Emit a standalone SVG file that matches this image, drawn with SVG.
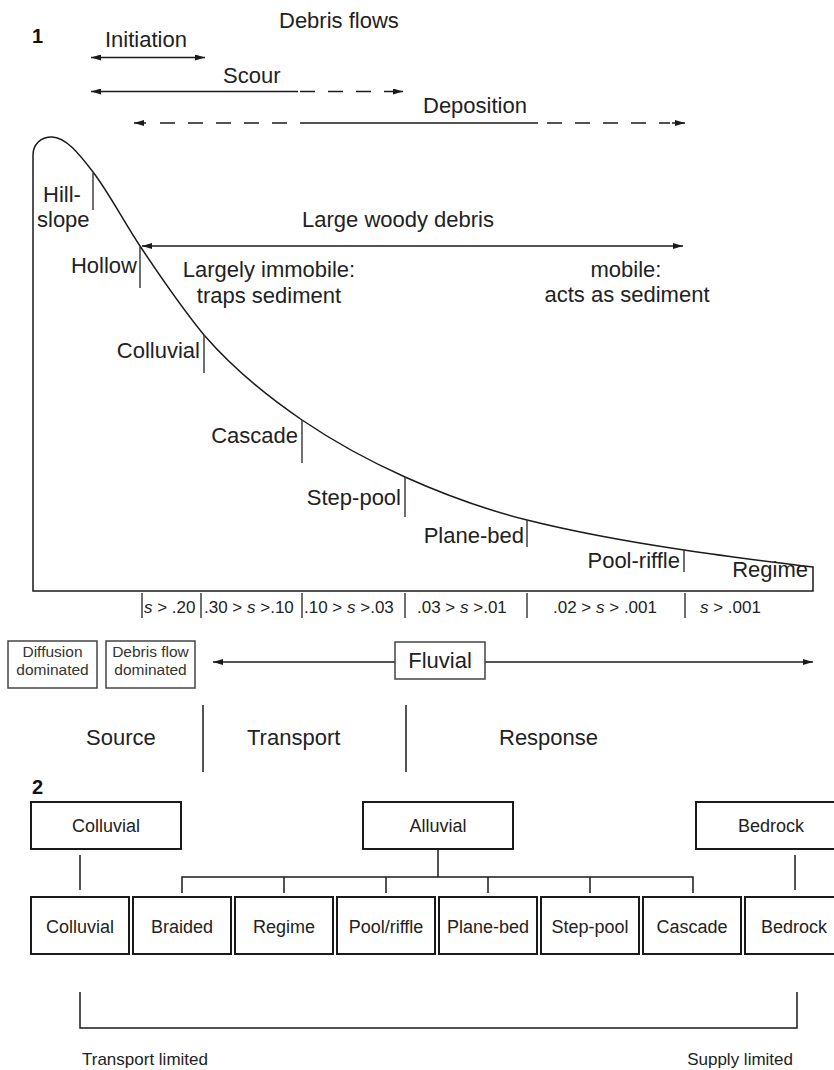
<svg xmlns="http://www.w3.org/2000/svg" width="834" height="1070" viewBox="0 0 834 1070">
<defs>
<marker id="ah" viewBox="0 0 10 6" refX="10" refY="3" markerWidth="10" markerHeight="6" markerUnits="userSpaceOnUse" orient="auto-start-reverse">
<path d="M0,0 L10,3 L0,6 Z" fill="#1a1a1a"/>
</marker>
<style>
text{font-family:"Liberation Sans",Arial,sans-serif;fill:#222;}
.t22{font-size:22px;}
.t18{font-size:18px;}
.t17{font-size:17px;}
.t16{font-size:15.5px;fill:#333;}
.num{font-size:20px;font-weight:bold;fill:#111;}
.ln{stroke:#1a1a1a;stroke-width:1.5;fill:none;}
.tk{stroke:#333;stroke-width:1.4;fill:none;}
.dash{stroke:#1a1a1a;stroke-width:1.5;fill:none;stroke-dasharray:15 13;}
.box{fill:#fff;stroke:#1a1a1a;stroke-width:2;}
.sbox{fill:#fff;stroke:#444;stroke-width:1.5;}
.c{text-anchor:middle;}
.e{text-anchor:end;}
</style>
</defs>
<rect width="834" height="1070" fill="#fff"/>

<!-- Panel labels -->
<text class="num" x="32" y="43">1</text>
<text class="num" x="32" y="794">2</text>

<!-- Debris flows section -->
<g id="debris-flows">
<text class="t22" x="279" y="28">Debris flows</text>
<text class="t22" x="105" y="47">Initiation</text>
<text class="t22" x="223" y="83">Scour</text>
<text class="t22" x="423" y="113">Deposition</text>
</g>

<g id="connectors">
<!-- Initiation -->
<line class="ln" x1="91" y1="57.5" x2="205" y2="57.5" marker-start="url(#ah)" marker-end="url(#ah)"/>
<!-- Scour -->
<line class="ln" x1="91" y1="91.5" x2="298" y2="91.5" marker-start="url(#ah)"/>
<line class="dash" x1="300" y1="91.5" x2="388" y2="91.5"/>
<line class="ln" x1="388" y1="91.5" x2="403" y2="91.5" marker-end="url(#ah)"/>
<!-- Deposition -->
<line class="ln" x1="134" y1="123" x2="146" y2="123" marker-start="url(#ah)"/>
<line class="dash" x1="160" y1="123" x2="300" y2="123"/>
<line class="ln" x1="300" y1="123" x2="538" y2="123"/>
<line class="dash" x1="547" y1="123" x2="670" y2="123"/>
<line class="ln" x1="672" y1="123" x2="685" y2="123" marker-end="url(#ah)"/>
<!-- Large woody debris -->
<line class="ln" x1="142" y1="246" x2="683" y2="246" marker-start="url(#ah)" marker-end="url(#ah)"/>
<!-- Fluvial -->
<line class="ln" x1="395" y1="662" x2="213" y2="662" marker-end="url(#ah)"/>
<line class="ln" x1="485" y1="662" x2="813" y2="662" marker-end="url(#ah)"/>
<!-- Source / Transport / Response separators -->
<line class="ln" x1="203" y1="705" x2="203" y2="772"/>
<line class="ln" x1="406" y1="705" x2="406" y2="772"/>
<!-- Panel 2 tree -->
<line class="ln" x1="80" y1="855" x2="80" y2="890" stroke-width="2"/>
<line class="ln" x1="438" y1="849" x2="438" y2="877" stroke-width="2"/>
<line class="ln" x1="795" y1="855" x2="795" y2="890" stroke-width="2"/>
<path class="ln" d="M182,893 V877 H693 V893 M284,877 V893 M386,877 V893 M488,877 V893 M590,877 V893" stroke-width="1.8"/>
<!-- bottom bracket -->
<path class="ln" d="M80,992 V1028 H797 V992" stroke-width="1.8"/>
</g>

<!-- Profile curve -->
<g id="profile">
<path class="ln" d="M33,591 L33,155 C33,145 40,137 52,137 C65.7,137 79.3,154.2 93,172 C108.7,192.4 124.3,222.5 140,246 C161.3,278 182.7,309 204,335 C236.7,372.6 269.3,397.8 302,420 C336.3,443.3 370.7,461.6 405,477 C445.7,495.3 486.3,509.8 527,520 C579.3,533.1 631.7,542.2 684,550 C727,556.5 770,561.8 813,567 L813,591 Z"/>
<!-- ticks on curve -->
<line class="tk" x1="93" y1="173" x2="93" y2="210" stroke="#777"/>
<line class="tk" x1="140" y1="247" x2="140" y2="288"/>
<line class="tk" x1="204" y1="335" x2="204" y2="373"/>
<line class="tk" x1="302" y1="420" x2="302" y2="463"/>
<line class="tk" x1="405" y1="477" x2="405" y2="517"/>
<line class="tk" x1="527" y1="520" x2="527" y2="547"/>
<line class="tk" x1="684" y1="550" x2="684" y2="572"/>
</g>

<g id="channel-labels">
<text class="t22" x="43" y="202">Hill-</text>
<text class="t22" x="37" y="227">slope</text>
<text class="t22 e" x="137" y="273">Hollow</text>
<text class="t22 e" x="200" y="358">Colluvial</text>
<text class="t22 e" x="298" y="443">Cascade</text>
<text class="t22 e" x="401" y="505">Step-pool</text>
<text class="t22 e" x="524" y="543">Plane-bed</text>
<text class="t22 e" x="680" y="568">Pool-riffle</text>
<text class="t22 e" x="808" y="577">Regime</text>
</g>

<g id="large-woody-debris">
<text class="t22" x="302" y="227">Large woody debris</text>
<text class="t22 c" x="269" y="277">Largely immobile:</text>
<text class="t22 c" x="269" y="303">traps sediment</text>
<text class="t22 c" x="626" y="277">mobile:</text>
<text class="t22 c" x="627" y="302">acts as sediment</text>
</g>

<g id="slope-ranges">
<path class="tk" d="M142,593 V618 M201,593 V618 M302,593 V618 M405,593 V618 M527,593 V618 M685,593 V618" stroke="#555"/>
<text class="t17" x="144" y="613"><tspan font-style="italic">s</tspan> &gt; .20</text>
<text class="t17" x="204" y="613">.30 &gt; <tspan font-style="italic">s</tspan> &gt;.10</text>
<text class="t17" x="304" y="613">.10 &gt; <tspan font-style="italic">s</tspan> &gt;.03</text>
<text class="t17" x="417" y="613">.03 &gt; <tspan font-style="italic">s</tspan> &gt;.01</text>
<text class="t17" x="553" y="613">.02 &gt; <tspan font-style="italic">s</tspan> &gt; .001</text>
<text class="t17" x="700" y="613"><tspan font-style="italic">s</tspan> &gt; .001</text>
</g>

<g id="diffusion-dominated">
<rect class="sbox" x="8" y="641" width="89" height="47"/>
<text class="t16 c" x="52.5" y="657">Diffusion</text>
<text class="t16 c" x="52.5" y="675">dominated</text>
</g>
<g id="debris-flow-dominated">
<rect class="sbox" x="106" y="641" width="89" height="47"/>
<text class="t16 c" x="150.5" y="657">Debris flow</text>
<text class="t16 c" x="150.5" y="675">dominated</text>
</g>
<g id="fluvial">
<rect class="sbox" x="395" y="642" width="90" height="37" stroke="#1a1a1a"/>
<text class="t22 c" x="440" y="668">Fluvial</text>
</g>

<g id="zones">
<text class="t22" x="86" y="745">Source</text>
<text class="t22" x="247" y="745">Transport</text>
<text class="t22" x="499" y="745">Response</text>
</g>

<!-- Panel 2 top boxes -->
<g id="top-colluvial"><rect class="box" x="31" y="802" width="150" height="47"/><text class="t18 c" x="106" y="832">Colluvial</text></g>
<g id="top-alluvial"><rect class="box" x="363" y="802" width="150" height="47"/><text class="t18 c" x="438" y="832">Alluvial</text></g>
<g id="top-bedrock"><rect class="box" x="696" y="802" width="150" height="47"/><text class="t18 c" x="771" y="832">Bedrock</text></g>

<!-- Panel 2 bottom boxes -->
<g id="b-colluvial"><rect class="box" x="31" y="897" width="98" height="57"/><text class="t18 c" x="80" y="933">Colluvial</text></g>
<g id="b-braided"><rect class="box" x="133" y="897" width="98" height="57"/><text class="t18 c" x="182" y="933">Braided</text></g>
<g id="b-regime"><rect class="box" x="235" y="897" width="98" height="57"/><text class="t18 c" x="284" y="933">Regime</text></g>
<g id="b-poolriffle"><rect class="box" x="337" y="897" width="98" height="57"/><text class="t18 c" x="386" y="933">Pool/riffle</text></g>
<g id="b-planebed"><rect class="box" x="439" y="897" width="98" height="57"/><text class="t18 c" x="488" y="933">Plane-bed</text></g>
<g id="b-steppool"><rect class="box" x="541" y="897" width="98" height="57"/><text class="t18 c" x="590" y="933">Step-pool</text></g>
<g id="b-cascade"><rect class="box" x="643" y="897" width="98" height="57"/><text class="t18 c" x="692" y="933">Cascade</text></g>
<g id="b-bedrock"><rect class="box" x="745" y="897" width="98" height="57"/><text class="t18 c" x="794" y="933">Bedrock</text></g>

<g id="limits">
<text class="t17" x="82" y="1065">Transport limited</text>
<text class="t17 e" x="793" y="1065">Supply limited</text>
</g>
</svg>
